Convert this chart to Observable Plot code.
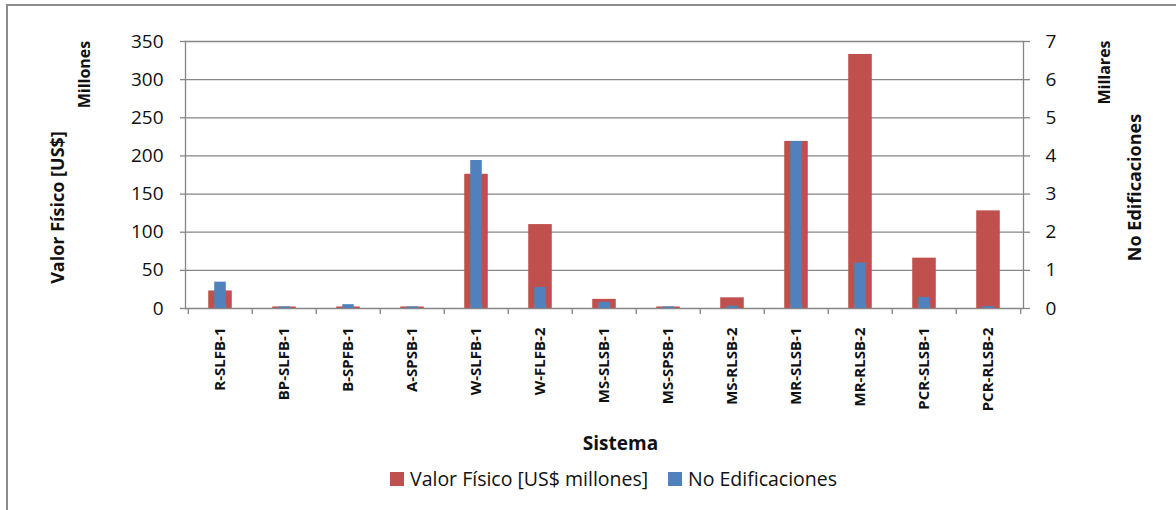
<!DOCTYPE html>
<html>
<head>
<meta charset="utf-8">
<script src="https://cdn.jsdelivr.net/npm/d3@7"></script>
<script src="https://cdn.jsdelivr.net/npm/@observablehq/plot@0.6"></script>
<style>
  html, body { margin: 0; padding: 0; background: #fff; }
  #wrap { position: relative; width: 1176px; height: 510px; overflow: hidden; font-family: "Open Sans", Lato, sans-serif; }
  #border { position: absolute; left: 6px; top: 4px; width: 1200px; height: 600px; border-left: 2px solid #8c8c8c; border-top: 2px solid #8c8c8c; box-sizing: border-box; }
  #chart { position: absolute; left: 0; top: 0; }
  #legend { position: absolute; top: 466px; left: 0; width: 1176px; height: 26px; }
  .item { position: absolute; top: 0; display: flex; align-items: center; font-size: 19.5px; color: #111; white-space: nowrap; line-height: 26px; }
  .sw { width: 14px; height: 14px; margin-right: 6px; }
</style>
</head>
<body>
<div id="wrap">
  <div id="border"></div>
  <div id="chart"></div>
  <div id="legend">
    <div class="item" style="left:390px"><span class="sw" style="background:#C0504D"></span>Valor Físico [US$ millones]</div>
    <div class="item" style="left:668px"><span class="sw" style="background:#4F81BD"></span>No Edificaciones</div>
  </div>
</div>
<script>
const sistemas = ["R-SLFB-1","BP-SLFB-1","B-SPFB-1","A-SPSB-1","W-SLFB-1","W-FLFB-2","MS-SLSB-1","MS-SPSB-1","MS-RLSB-2","MR-SLSB-1","MR-RLSB-2","PCR-SLSB-1","PCR-RLSB-2"];
const valorFisico = [23, 2, 2, 2, 176, 110, 12, 2, 14, 219, 333, 66, 128];      // US$ millones
const edificaciones = [0.69, 0.04, 0.10, 0.04, 3.88, 0.55, 0.16, 0.04, 0.06, 4.38, 1.19, 0.29, 0.05]; // millares
const leftTicks = [0, 50, 100, 150, 200, 250, 300, 350];
const rightTicks = [0, 1, 2, 3, 4, 5, 6, 7];

const ratio = 350 / 7;
const data = sistemas.map((s, i) => ({sistema: s, valor: valorFisico[i], edif: edificaciones[i]}));

const W = 1176, H = 460;
const mL = 185, mR = 1176 - 1023, mT = 41, mB = H - 308;
const midY = mT + (308 - mT) / 2;
const bw = (W - mL - mR) / sistemas.length;
const redW = 24, blueW = 12;
const ff = "'Open Sans', Lato, sans-serif";

const chart = Plot.plot({
  width: W, height: H,
  marginLeft: mL, marginRight: mR, marginTop: mT, marginBottom: mB,
  style: {fontFamily: ff, color: "#111", background: "transparent"},
  x: {type: "band", domain: sistemas, padding: 0, axis: null},
  y: {domain: [0, 350], axis: null},
  marks: [
    Plot.gridY(leftTicks, {stroke: "#868686", strokeOpacity: 1, strokeWidth: 1.3}),
    Plot.frame({anchor: "left", stroke: "#868686", strokeWidth: 1.3}),
    Plot.frame({anchor: "right", stroke: "#868686", strokeWidth: 1.3}),
    Plot.barY(data, {x: "sistema", y: "valor", fill: "#C0504D", insetLeft: (bw - redW) / 2, insetRight: (bw - redW) / 2}),
    Plot.barY(data, {x: "sistema", y: d => d.edif * ratio, fill: "#4F81BD", insetLeft: (bw - blueW) / 2, insetRight: (bw - blueW) / 2}),
    Plot.axisY({anchor: "left", ticks: leftTicks, tickSize: 5, tickPadding: 17, fontSize: 19, stroke: "#868686", strokeWidth: 1.3, label: null}),
    Plot.axisY({anchor: "right", ticks: rightTicks.map(t => t * ratio), tickFormat: d => d / ratio, tickSize: 6, tickPadding: 16, fontSize: 19, stroke: "#868686", strokeWidth: 1.3, label: null}),
    Plot.axisX({anchor: "bottom", tickSize: 6, tickFormat: null, dx: -bw / 2, stroke: "#868686", strokeWidth: 1.3, label: null}),
    Plot.axisX({anchor: "bottom", ticks: [sistemas[sistemas.length - 1]], tickSize: 6, tickFormat: null, dx: bw / 2, stroke: "#868686", strokeWidth: 1.3, label: null}),
    Plot.axisX({anchor: "bottom", tickSize: 0, tickPadding: 19, tickRotate: -90, fontSize: 15, fontWeight: "bold", label: null}),
    Plot.text(["Valor Físico [US$]"], {frameAnchor: "left", textAnchor: "middle", dx: 58 - mL, dy: 207 - midY, rotate: -90, fontSize: 18, fontWeight: "bold"}),
    Plot.text(["Millones"], {frameAnchor: "left", textAnchor: "middle", dx: 84 - mL, dy: 74 - midY, rotate: -90, fontSize: 16, fontWeight: "bold"}),
    Plot.text(["Millares"], {frameAnchor: "right", textAnchor: "middle", dx: 1104 - 1023, dy: 72 - midY, rotate: -90, fontSize: 16, fontWeight: "bold"}),
    Plot.text(["No Edificaciones"], {frameAnchor: "right", textAnchor: "middle", dx: 1135 - 1023, dy: 187 - midY, rotate: -90, fontSize: 18, fontWeight: "bold"}),
    Plot.text(["Sistema"], {frameAnchor: "bottom", lineAnchor: "middle", dx: 620 - (mL + 1023) / 2, dy: 443 - 308, fontSize: 19, fontWeight: "bold"})
  ]
});
document.getElementById("chart").appendChild(chart);
</script>
</body>
</html>
